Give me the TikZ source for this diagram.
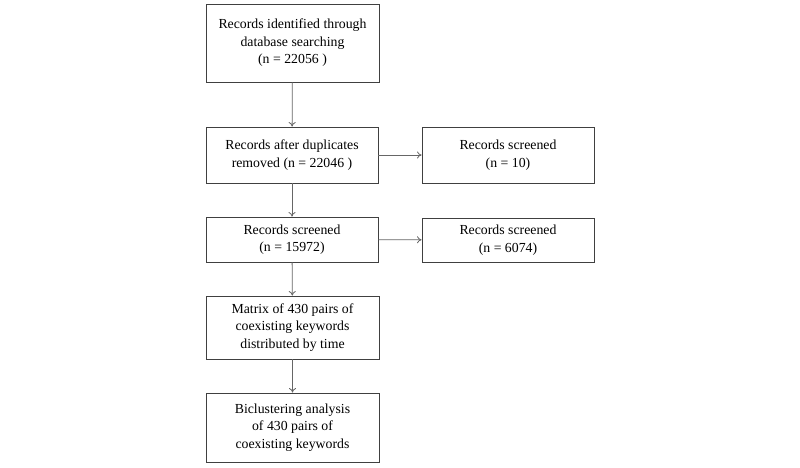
\documentclass[tikz,border=0pt]{standalone}
\usepackage{fontspec}
\setmainfont{Liberation Serif}
\usetikzlibrary{arrows.meta}
\begin{document}
\begin{tikzpicture}[x=1pt,y=-1pt,
  box/.style={draw=black!75, line width=0.9pt, fill=white, align=center, inner sep=0pt,
    font=\fontsize{13.8}{17.5}\selectfont},
  conn/.style={draw=black!60, line width=0.8pt, -{To[length=4.5pt,width=7pt]}}]
\useasboundingbox (0,0) rectangle (800,467);
\fill[white] (0,0) rectangle (800,467);
\node[box, minimum width=173, minimum height=78] (b1) at (292.5,43) {Records identified through\\database searching\\(n = 22056 )};
\node[box, minimum width=172, minimum height=56] (b2) at (292,155) {Records after duplicates\\removed (n = 22046 )};
\node[box, minimum width=172, minimum height=56] (r1) at (508,155) {Records screened\\(n = 10)};
\node[box, minimum width=172, minimum height=45] (b3) at (292,239.5) {Records screened\\(n = 15972)};
\node[box, minimum width=172, minimum height=44] (r2) at (508,240) {Records screened\\(n = 6074)};
\node[box, minimum width=173, minimum height=63] (b4) at (292.5,327.5) {Matrix of 430 pairs of\\coexisting keywords\\distributed by time};
\node[box, minimum width=173, minimum height=69] (b5) at (292.5,427.5) {Biclustering analysis\\of 430 pairs of\\coexisting keywords};
\draw[conn] (b1) -- (b2);
\draw[conn] (b2) -- (r1);
\draw[conn] (b2) -- (b3);
\draw[conn] (b3) -- (r2);
\draw[conn] (b3) -- (b4);
\draw[conn] (b4) -- (b5);
\end{tikzpicture}
\end{document}
